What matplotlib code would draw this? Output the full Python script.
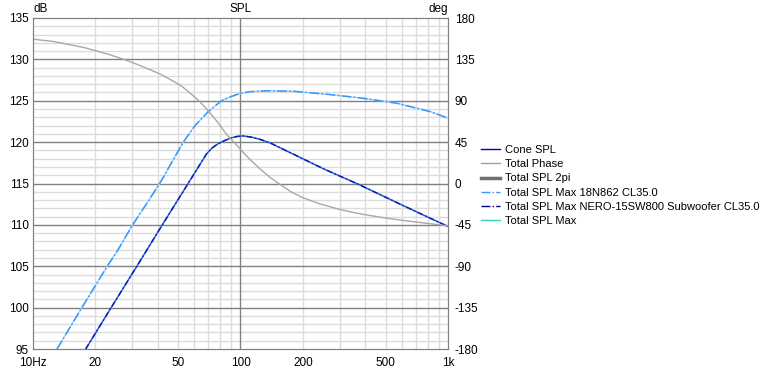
import numpy as np
import matplotlib
matplotlib.use("Agg")
import matplotlib.pyplot as plt
from matplotlib.lines import Line2D
from matplotlib.ticker import FixedLocator, NullFormatter

plt.rcParams['font.family'] = ['Liberation Sans', 'DejaVu Sans']
plt.rcParams['font.size'] = 8.5
plt.rcParams['axes.unicode_minus'] = False

# values
f_18n = [13.05, 17.2, 22.8, 25.7, 30.2, 36, 41.7, 46, 53, 60.4, 70, 81, 90, 100, 112, 134, 180, 270, 389, 567, 818, 1000]
spl_18n = [95, 100, 105, 107, 110, 112.9, 115.4, 117.3, 120, 122.0, 123.7, 125, 125.5, 125.9, 126.1, 126.2, 126.15, 125.75, 125.3, 124.7, 123.7, 122.9]

f_cone = [17.95, 23.8, 31.3, 42, 58.2, 68.7, 73, 78, 84, 90, 96, 103, 113, 124, 139, 255, 363, 600, 1000]
spl_cone = [95, 100, 104.8, 110, 115.7, 118.6, 119.3, 119.8, 120.2, 120.5, 120.68, 120.75, 120.6, 120.34, 119.9, 116.7, 115, 112.4, 109.8]

f_phase = [10, 12.5, 15, 17.5, 20, 23.5, 27, 31, 36, 41, 46, 52, 57, 63, 70, 78, 86, 93, 100, 110, 124,
           139, 155, 175, 200, 240, 298, 350, 400, 500, 600, 800, 1000]
phase = [157, 154.5, 151, 148, 144.5, 140, 135.5, 130.5, 124.5, 119, 113, 106, 98.5, 90, 79, 66, 53, 45, 37, 27, 16,
         6.5, -1, -9, -15.5, -22, -28, -31.5, -34, -37.5, -40, -43.5, -46]

x_ticks = [10, 20, 50, 100, 200, 500, 1000]
x_labels = ['10Hz', '20', '50', '100', '200', '500', '1k']

fig = plt.figure(figsize=(7.71, 3.68), dpi=100)
ax = fig.add_axes([33/771, 1-349/368, 415/771, 331/368])
ax2 = ax.twinx()

ax.set_xscale('log')
ax.set_xlim(10, 1000)
ax.set_ylim(95, 135)
ax2.set_ylim(-180, 180)

# grid
minor_x = [f*d for d in (10, 100) for f in range(2, 10)]
for xv in minor_x:
    ax.axvline(xv, color='#dcdcdc', lw=1, zorder=0)
for yv in range(96, 135):
    if yv % 5:
        ax.axhline(yv, color='#dcdcdc', lw=1, zorder=0)
for yv in range(100, 135, 5):
    ax.axhline(yv, color='#808080', lw=1, zorder=0.5)
ax.axvline(100, color='#808080', lw=1, zorder=0.5)

ax2.plot(f_phase, phase, color='#a8a8a8', lw=1)
ax.plot(f_18n, spl_18n, color='#a8d2ff', lw=1, zorder=3)
ax.plot(f_18n, spl_18n, color='#3399ff', lw=1.1, ls='-.', zorder=3)
ax.plot(f_cone, spl_cone, color='#2a5ae6', lw=1.1, zorder=3)
ax.plot(f_cone, spl_cone, color='#0a1fa0', lw=1, ls=(0, (4, 2, 1, 2)), zorder=3)

ax.xaxis.set_major_locator(FixedLocator(x_ticks))
ax.set_xticklabels(x_labels)
ax.xaxis.set_minor_formatter(NullFormatter())
ax.set_yticks(range(95, 136, 5))
ax2.set_yticks(range(-180, 181, 45))
ax.tick_params(axis='both', which='both', length=0, pad=3)
ax.tick_params(axis='x', pad=5.5)
ax2.tick_params(length=0, pad=5)
for a in (ax, ax2):
    for s in a.spines.values():
        s.set_color('#808080')

ax.text(0.002, 1.01, 'dB', transform=ax.transAxes, ha='left', va='bottom')
ax.text(0.5, 1.01, 'SPL', transform=ax.transAxes, ha='center', va='bottom')
ax.text(1.0, 1.01, 'deg', transform=ax.transAxes, ha='right', va='bottom')

handles = [
    Line2D([], [], color='#0000c8', lw=1),
    Line2D([], [], color='#a0a0a0', lw=1),
    Line2D([], [], color='#707070', lw=2.5),
    Line2D([], [], color='#3399ff', lw=1, ls='-.'),
    Line2D([], [], color='#000080', lw=1, ls='-.'),
    Line2D([], [], color='#40d0c0', lw=1),
]
labels = ['Cone SPL', 'Total Phase', 'Total SPL 2pi', 'Total SPL Max 18N862 CL35.0',
          'Total SPL Max NERO-15SW800 Subwoofer CL35.0', 'Total SPL Max']
fig.legend(handles, labels, loc='upper left', bbox_to_anchor=(481/771, 1-145/368),
           frameon=False, borderpad=0, handlelength=1.75, handletextpad=0.45,
           labelspacing=0.38, borderaxespad=0, fontsize=8)

fig.savefig('out.png', dpi=100)
